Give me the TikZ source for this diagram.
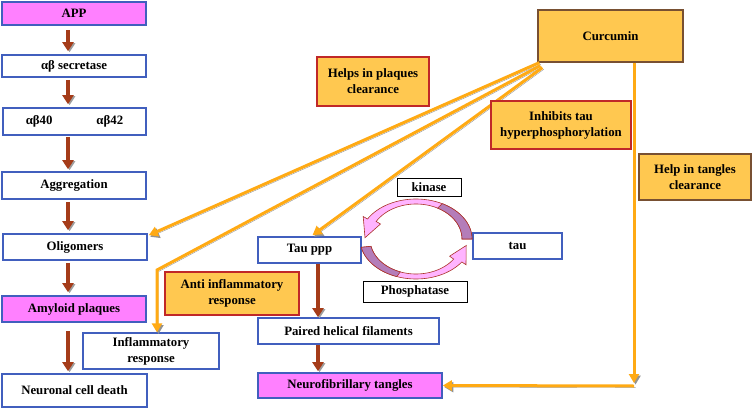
\documentclass[tikz,border=0pt]{standalone}
\usepackage{fontspec}
\setmainfont{Liberation Serif}
\usetikzlibrary{arrows.meta,calc}
\definecolor{boxblue}{RGB}{65,95,190}
\definecolor{magfill}{RGB}{255,128,255}
\definecolor{orfill}{RGB}{255,200,80}
\definecolor{redline}{RGB}{192,40,40}
\definecolor{brownline}{RGB}{120,80,50}
\definecolor{arrbrown}{RGB}{165,60,25}
\definecolor{arrorange}{RGB}{255,170,20}
\definecolor{pinkarc}{RGB}{255,180,255}
\definecolor{purparc}{RGB}{180,125,185}
\definecolor{arcline}{RGB}{170,50,40}
\begin{document}
\begin{tikzpicture}[x=1pt,y=-1pt,
  font=\fontsize{12.8}{16}\selectfont\bfseries,
  box/.style={draw=boxblue, line width=1.6pt, fill=white, inner sep=0pt, align=center},
  thinbox/.style={draw=boxblue, line width=1.2pt, fill=white, inner sep=0pt, align=center},
  blackbox/.style={draw=black, line width=0.9pt, fill=white, inner sep=0pt, align=center},
  notebox/.style={draw=redline, line width=1.3pt, fill=orfill, inner sep=0pt, align=center},
  curbox/.style={draw=brownline, line width=1.3pt, fill=orfill, inner sep=0pt, align=center},
  brarrow/.style={draw=arrbrown, line width=3.4pt, -{Triangle[length=9pt,width=11pt]},
    preaction={draw=gray!75, transform canvas={shift={(1.6pt,-1pt)}}}},
  orarrow/.style={draw=arrorange, line width=3pt, -{Triangle[length=9pt,width=10pt]},
    preaction={draw=gray!85, transform canvas={shift={(1.5pt,-1.6pt)}}}},
  arcshape/.style={line width=0.6pt, draw=arcline}
]
\useasboundingbox (0,0) rectangle (752,409);

% reference coordinates
\coordinate (lc) at (68,0);
\coordinate (rc) at (318,0);
\coordinate (bend) at (157,270);
\coordinate (corner) at (634,386);

% ---------- left column ----------
\node[box, fill=magfill, minimum width=144pt, minimum height=23pt] (app) at (74,13.5) {APP};
\node[box, minimum width=144pt, minimum height=22pt] (sec) at (74,66) {αβ secretase};
\node[box, minimum width=143pt, minimum height=27pt] (ab) at (74.5,121.5) {αβ40\hspace{44pt}αβ42};
\node[box, minimum width=144pt, minimum height=27pt] (agg) at (74,185.5) {Aggregation};
\node[box, minimum width=144pt, minimum height=26pt] (olig) at (75,247) {Oligomers};
\node[box, fill=magfill, minimum width=144pt, minimum height=26pt] (amy) at (74,309) {Amyloid plaques};
\node[box, minimum width=145pt, minimum height=33pt] (neur) at (74.5,390.5) {Neuronal cell death};
\node[thinbox, minimum width=136pt, minimum height=36pt] (infl) at (151,351) {Inflammatory\\response};

% ---------- tau column ----------
\node[box, minimum width=103pt, minimum height=26pt] (taup) at (309.5,250) {Tau ppp};
\node[box, minimum width=181pt, minimum height=26pt] (phf) at (348.5,331) {Paired helical filaments};
\node[box, fill=magfill, minimum width=184pt, minimum height=25pt] (nft) at (350,385.5) {Neurofibrillary tangles};
\node[box, minimum width=89pt, minimum height=26pt] (tau) at (517.5,246) {tau};
\node[blackbox, minimum width=64pt, minimum height=18pt] (kin) at (429,187) {kinase};
\node[blackbox, minimum width=104pt, minimum height=21pt] (phos) at (415,291.5) {Phosphatase};

% ---------- brown arrows ----------
\draw[brarrow] ($(app.south -| lc)+(0,4)$) -- ($(sec.north -| lc)+(0,-3)$);
\draw[brarrow] ($(sec.south -| lc)+(0,2)$) -- ($(ab.north -| lc)+(0,-3)$);
\draw[brarrow] ($(ab.south -| lc)+(0,1)$) -- ($(agg.north -| lc)+(0,-2)$);
\draw[brarrow] ($(agg.south -| lc)+(0,2)$) -- ($(olig.north -| lc)+(0,-3)$);
\draw[brarrow] ($(olig.south -| lc)+(0,2)$) -- ($(amy.north -| lc)+(0,-3)$);
\draw[brarrow] ($(amy.south -| lc)+(0,8)$) -- ($(neur.north -| lc)+(0,-2)$);
\draw[brarrow] (taup.south -| rc) -- (phf.north -| rc);
\draw[brarrow] (phf.south -| rc) -- ($(nft.north -| rc)+(0,-1)$);

% ---------- circular arrows ----------
% kinase arrow (top): from tau to Tau ppp
\filldraw[arcshape, fill=pinkarc]
  plot[domain=0:-150, samples=40] ({416+56*cos(\x)},{239+40*sin(\x)})
  -- (363.2,216.5) -- (365.0,237.7) -- (380.5,224)
  -- plot[domain=-150:0, samples=40] ({416+46*cos(\x)},{239+35*sin(\x)}) -- cycle;
\filldraw[arcshape, fill=purparc]
  plot[domain=0:-62, samples=20] ({416+56*cos(\x)},{239+40*sin(\x)})
  -- plot[domain=-62:0, samples=20] ({416+46*cos(\x)},{239+35*sin(\x)}) -- cycle;
% phosphatase arrow (bottom): from Tau ppp to tau
\filldraw[arcshape, fill=pinkarc]
  plot[domain=168:35, samples=40] ({416+56*cos(\x)},{239+40*sin(\x)})
  -- (466.0,264.8) -- (466.2,245.5) -- (449.6,256.2)
  -- plot[domain=35:168, samples=40] ({416+46*cos(\x)},{239+35*sin(\x)}) -- cycle;
\filldraw[arcshape, fill=purparc]
  plot[domain=168:110, samples=20] ({416+56*cos(\x)},{239+40*sin(\x)})
  -- plot[domain=110:168, samples=20] ({416+46*cos(\x)},{239+35*sin(\x)}) -- cycle;

% ---------- curcumin ----------
\node[curbox, minimum width=145pt, minimum height=52pt] (curc) at (610.5,36) {Curcumin};

% orange connectors
\draw[orarrow] ($(curc.south west)+(2,0)$) -- ($(olig.north east)+(1,2)$);
\draw[orarrow] ($(curc.south west)+(3,3)$) -- (bend) -- (infl.north -| bend);
\draw[orarrow] ($(curc.south west)+(5,5)$) -- ($(taup.north)+(3,-1)$);
\draw[orarrow] (curc.south -| corner) -- ($(corner)+(0,-3)$);
\draw[orarrow] (corner) -- (nft.east);

% ---------- note boxes ----------
\node[notebox, minimum width=112pt, minimum height=49pt] (plaq) at (373,81.5) {Helps in plaques\\clearance};
\node[notebox, minimum width=140pt, minimum height=48pt] (inh) at (561,125) {Inhibits tau\\hyperphosphorylation};
\node[curbox, minimum width=112pt, minimum height=46pt] (tang) at (695,177) {Help in tangles\\clearance};
\node[notebox, minimum width=134pt, minimum height=43pt] (anti) at (232,293.5) {Anti inflammatory\\response};
\end{tikzpicture}
\end{document}
